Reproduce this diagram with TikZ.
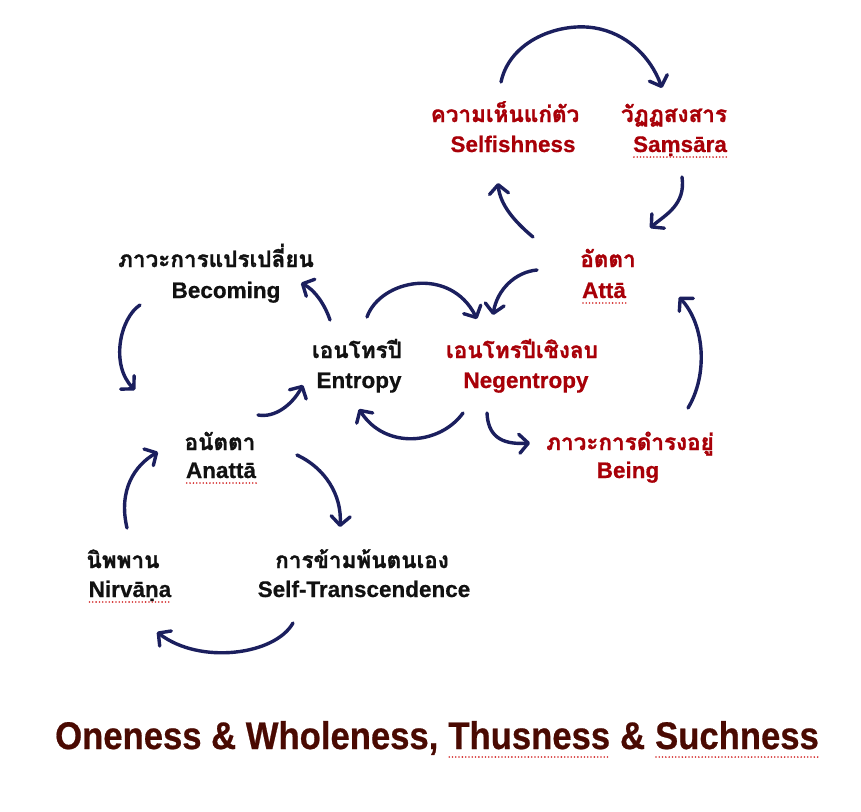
\documentclass[tikz,border=0pt]{standalone}
\usepackage{fontspec}
\setmainfont{Liberation Sans}[BoldFeatures={FakeBold=0.6}]
\newfontfamily\thai[Script=Thai,BoldFeatures={FakeBold=1.2}]{Loma}
\usetikzlibrary{arrows.meta,calc}
\definecolor{navy}{HTML}{1B1F5E}
\definecolor{dred}{HTML}{A80008}
\definecolor{ink}{HTML}{111111}
\definecolor{dbrown}{HTML}{4A0A02}
\definecolor{spell}{HTML}{D42A2A}
\tikzset{
  th/.style={anchor=base, inner sep=0pt, font=\thai\bfseries\fontsize{22.5}{27}\selectfont},
  en/.style={anchor=base, inner sep=0pt, font=\bfseries\fontsize{22.5}{27}\selectfont},
  big/.style={anchor=base west, inner sep=0pt, text=dbrown, font=\bfseries\fontsize{38.5}{44}\selectfont},
  flow/.style={draw=navy, line width=3.4pt, line cap=round, -{Straight Barb[round,length=9pt,width=19pt]}},
  spellline/.style={draw=spell, line width=1.8pt, line cap=round, dash pattern=on 0pt off 3.3pt},
}
\begin{document}
\begin{tikzpicture}[x=1pt,y=-1pt]
\useasboundingbox[fill=white] (0,0) rectangle (861,811);
% labels
\node[th,text=dred] (selfTh) at (505,122) {ความเห็นแก่ตัว};
\node[en,text=dred] (selfEn) at (513,152) {Selfishness};
\node[th,text=dred] (samTh) at (674,122) {วัฏฏสงสาร};
\node[en,text=dred] (samEn) at (680,152) {Saṃsāra};
\node[th,text=dred] (attaTh) at (608,267) {อัตตา};
\node[en,text=dred] (attaEn) at (604,298) {Attā};
\node[th,text=ink] (becTh) at (216,267) {ภาวะการแปรเปลี่ยน};
\node[en,text=ink] (becEn) at (226,298) {Becoming};
\node[th,text=ink] (entTh) at (357,358) {เอนโทรปี};
\node[en,text=ink] (entEn) at (359,388) {Entropy};
\node[th,text=dred] (negTh) at (522,358) {เอนโทรปีเชิงลบ};
\node[en,text=dred] (negEn) at (526,388) {Negentropy};
\node[th,text=dred] (beiTh) at (630,450) {ภาวะการดำรงอยู่};
\node[en,text=dred] (beiEn) at (628,478) {Being};
\node[th,text=ink] (anaTh) at (220,450) {อนัตตา};
\node[en,text=ink] (anaEn) at (221,478) {Anattā};
\node[th,text=ink] (nirTh) at (123,568) {นิพพาน};
\node[en,text=ink] (nirEn) at (130,597) {Nirvāṇa};
\node[th,text=ink] (strTh) at (362,568) {การข้ามพ้นตนเอง};
\node[en,text=ink] (strEn) at (364,597) {Self-Transcendence};
% bottom line
\node[big] (b1) at (55,749) {\scalebox{0.9}[1]{Oneness \& Wholeness,}};
\node[big] (b2) at ([xshift=9.6pt]b1.base east) {\scalebox{0.9}[1]{Thusness}};
\node[big] (b3) at ([xshift=9.6pt]b2.base east) {\scalebox{0.9}[1]{\&}};
\node[big] (b4) at ([xshift=9.6pt]b3.base east) {\scalebox{0.9}[1]{Suchness}};
% spell-check underlines
\foreach \w/\d in {samEn/5,attaEn/5,anaEn/5,nirEn/5,b2/8,b4/8}{
  \draw[spellline] ($(\w.base west)+(1,\d)$) -- ($(\w.base east)+(0,\d)$);
}
% arrow end points
\coordinate (a1s) at (501,82);   \coordinate (a1e) at (662,88);
\coordinate (a2s) at (682,177);  \coordinate (a2e) at (650,228);
\coordinate (a3s) at (533,237);  \coordinate (a3e) at (498,183);
\coordinate (a4s) at (537,270);  \coordinate (a4e) at (493,315);
\coordinate (a5s) at (367,317);  \coordinate (a5e) at (477,319);
\coordinate (a6s) at (330,320);  \coordinate (a6e) at (301,283);
\coordinate (a7s) at (140,305);  \coordinate (a7e) at (135,390);
\coordinate (a8s) at (258,415);  \coordinate (a8e) at (303,385);
\coordinate (a9s) at (463,413);  \coordinate (a9e) at (359,409);
\coordinate (a10s) at (487,413); \coordinate (a10e) at (530,443);
\coordinate (a11s) at (688,408); \coordinate (a11e) at (679,297);
\coordinate (a12s) at (297,455); \coordinate (a12e) at (340,527);
\coordinate (a13s) at (293,623); \coordinate (a13e) at (157,632);
\coordinate (a14s) at (127,528); \coordinate (a14e) at (158,452);
% arrows
\draw[flow] (a1s) .. controls (510,40) and (560,22) .. (595,28) .. controls (625,33) and (650,55) .. (a1e);
\draw[flow] (a2s) .. controls (686,205) and (665,215) .. (a2e);
\draw[flow] (a3s) .. controls (515,222) and (500,205) .. (a3e);
\draw[flow] (a4s) .. controls (515,272) and (497,290) .. (a4e);
\draw[flow] (a5s) .. controls (380,280) and (450,265) .. (a5e);
\draw[flow] (a6s) .. controls (325,305) and (315,290) .. (a6e);
\draw[flow] (a7s) .. controls (120,318) and (110,365) .. (a7e);
\draw[flow] (a8s) .. controls (275,418) and (292,405) .. (a8e);
\draw[flow] (a9s) .. controls (440,445) and (385,450) .. (a9e);
\draw[flow] (a10s) .. controls (488,435) and (500,445) .. (a10e);
\draw[flow] (a11s) .. controls (708,375) and (705,325) .. (a11e);
\draw[flow] (a12s) .. controls (325,468) and (342,495) .. (a12e);
\draw[flow] (a13s) .. controls (275,655) and (200,665) .. (a13e);
\draw[flow] (a14s) .. controls (118,490) and (135,465) .. (a14e);
\end{tikzpicture}
\end{document}
